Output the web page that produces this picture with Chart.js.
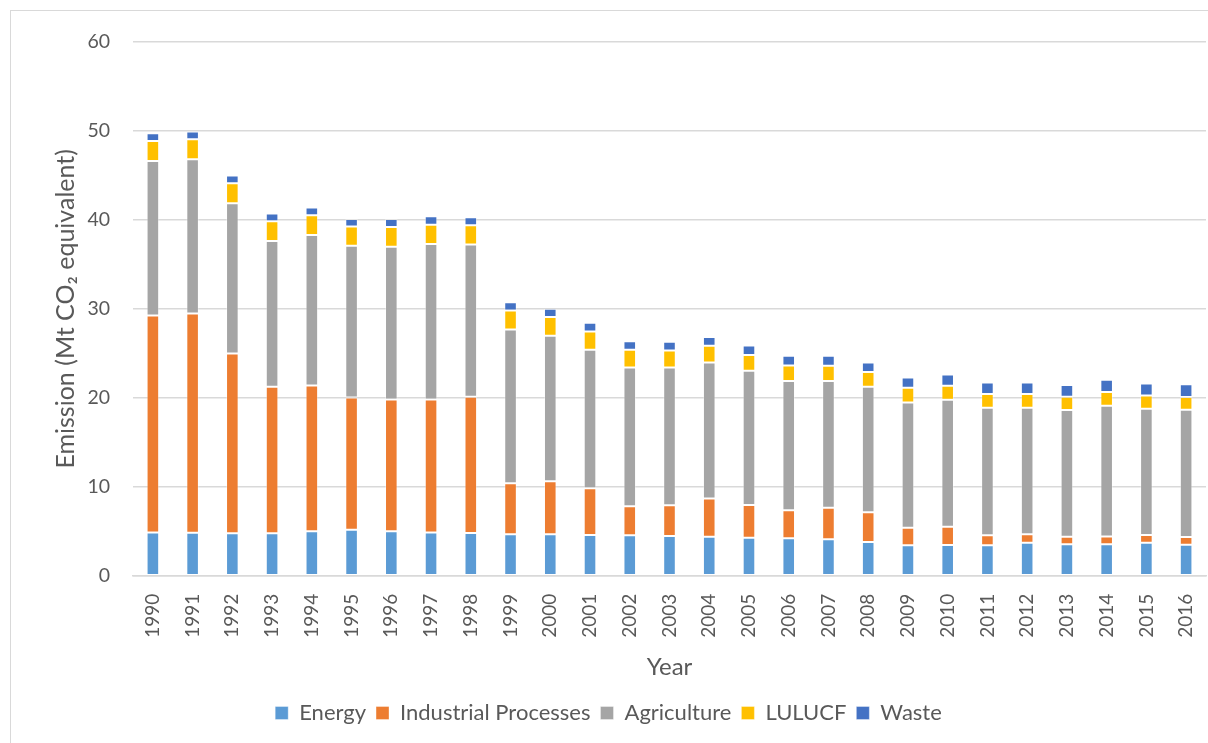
<!DOCTYPE html>
<html>
<head>
<meta charset="utf-8">
<script src="https://cdn.jsdelivr.net/npm/chart.js@4.4.1/dist/chart.umd.min.js"></script>
<style>
  html, body { margin: 0; padding: 0; background: #ffffff; }
  #wrap { position: relative; width: 1208px; height: 743px; overflow: hidden; background: #ffffff; }
  #frame { position: absolute; left: 10px; top: 10px; width: 1400px; height: 900px; border: 1px solid #d9d9d9; box-sizing: border-box; }
  canvas { position: absolute; left: 0; top: 0; }
</style>
</head>
<body>
<div id="wrap">
  <div id="frame"></div>
  <canvas id="chart" width="1208" height="743"></canvas>
</div>
<script>
// Greenhouse gas emissions by sector, Mt CO2 equivalent
const years = ['1990','1991','1992','1993','1994','1995','1996','1997','1998','1999',
               '2000','2001','2002','2003','2004','2005','2006','2007','2008','2009',
               '2010','2011','2012','2013','2014','2015','2016'];

const energy      = [4.87, 4.84, 4.76, 4.76, 4.99, 5.17, 4.99, 4.86, 4.80, 4.65,
                     4.65, 4.57, 4.54, 4.46, 4.37, 4.27, 4.20, 4.09, 3.79, 3.41,
                     3.45, 3.41, 3.71, 3.53, 3.53, 3.71, 3.49];
const industrial  = [24.39, 24.64, 20.23, 16.48, 16.40, 14.87, 14.83, 14.96, 15.31, 5.73,
                     5.96, 5.25, 3.26, 3.45, 4.31, 3.67, 3.15, 3.55, 3.33, 1.98,
                     2.06, 1.13, 0.94, 0.85, 0.89, 0.86, 0.86];
const agriculture = [17.37, 17.34, 16.89, 16.40, 16.92, 17.04, 17.15, 17.48, 17.12, 17.30,
                     16.36, 15.57, 15.61, 15.50, 15.28, 15.09, 14.53, 14.24, 14.12, 14.09,
                     14.27, 14.34, 14.23, 14.24, 14.68, 14.19, 14.30];
const lulucf      = [2.25, 2.25, 2.24, 2.21, 2.22, 2.18, 2.24, 2.16, 2.17, 2.14,
                     2.10, 2.07, 1.98, 1.91, 1.88, 1.77, 1.76, 1.72, 1.65, 1.64,
                     1.57, 1.54, 1.54, 1.49, 1.54, 1.51, 1.43];
const waste       = [0.86, 0.86, 0.87, 0.87, 0.86, 0.85, 0.90, 0.94, 0.90, 0.93,
                     0.93, 0.97, 0.98, 0.97, 1.00, 1.08, 1.08, 1.12, 1.09, 1.17,
                     1.28, 1.31, 1.31, 1.32, 1.38, 1.35, 1.43];

const yTicks = [0, 10, 20, 30, 40, 50, 60];

const FONT = 'Lato, "Open Sans", "Liberation Sans", sans-serif';
const TEXT = '#595959';
const GRID = '#d9d9d9';

function series(label, data, color) {
  return {
    label: label,
    data: data,
    backgroundColor: color,
    borderColor: 'rgba(255,255,255,0.35)',
    borderWidth: 1,
    borderSkipped: false,
    categoryPercentage: 1.0,
    barPercentage: 0.317
  };
}

new Chart(document.getElementById('chart'), {
  type: 'bar',
  data: {
    labels: years,
    datasets: [
      series('Energy', energy, '#5b9bd5'),
      series('Industrial Processes', industrial, '#ed7d31'),
      series('Agriculture', agriculture, '#a5a5a5'),
      series('LULUCF', lulucf, '#ffc000'),
      series('Waste', waste, '#4472c4')
    ]
  },
  options: {
    responsive: false,
    animation: false,
    maintainAspectRatio: false,
    layout: { padding: { left: 11, right: 2, top: 42, bottom: 9 } },
    plugins: {
      tooltip: { enabled: false },
      legend: {
        position: 'bottom',
        labels: {
          color: TEXT,
          font: { family: FONT, size: 22 },
          boxWidth: 13,
          boxHeight: 13,
          padding: 10
        }
      }
    },
    scales: {
      x: {
        stacked: true,
        grid: { display: false, drawTicks: false },
        border: { display: true, color: GRID, width: 1.5 },
        ticks: {
          color: TEXT,
          font: { family: FONT, size: 19 },
          minRotation: 90,
          maxRotation: 90,
          autoSkip: false,
          padding: 18
        },
        title: {
          display: true,
          text: 'Year',
          color: TEXT,
          font: { family: FONT, size: 24 },
          padding: { top: 4, bottom: 10.5 }
        },
        afterFit(scale) {
          scale.height = 116.3;
          scale.paddingLeft = 0;
          scale.paddingRight = 0;
        }
      },
      y: {
        stacked: true,
        min: 0,
        max: 60,
        grid: { color: GRID, lineWidth: 1.5, drawTicks: false },
        border: { display: false },
        afterBuildTicks(scale) { scale.ticks = yTicks.map(v => ({ value: v })); },
        ticks: {
          color: TEXT,
          font: { family: FONT, size: 19.5 },
          padding: 23
        },
        title: {
          display: true,
          text: 'Emission (Mt CO₂ equivalent)',
          color: TEXT,
          font: { family: FONT, size: 25 },
          padding: { top: 40, bottom: 0 }
        },
        afterFit(scale) { scale.width = 122; }
      }
    }
  }
});
</script>
</body>
</html>
